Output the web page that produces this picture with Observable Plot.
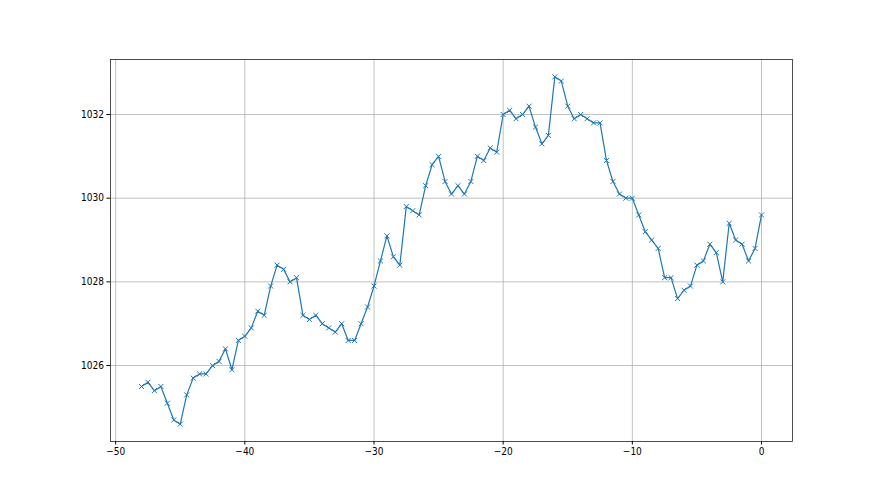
<!DOCTYPE html>
<html>
<head>
<meta charset="utf-8">
<script src="https://cdn.jsdelivr.net/npm/d3@7"></script>
<script src="https://cdn.jsdelivr.net/npm/@observablehq/plot@0.6"></script>
<style>
  html, body { margin: 0; padding: 0; background: #ffffff; }
  #chart svg { display: block; }
</style>
</head>
<body>
<div id="chart"></div>
<script>
const xStart = -48;
const xStep = 0.5;
const pressure = [
  1025.5, 1025.6, 1025.4, 1025.5, 1025.1, 1024.7, 1024.6, 1025.3, 1025.7, 1025.8,
  1025.8, 1026.0, 1026.1, 1026.4, 1025.9, 1026.6, 1026.7, 1026.9, 1027.3, 1027.2,
  1027.9, 1028.4, 1028.3, 1028.0, 1028.1, 1027.2, 1027.1, 1027.2, 1027.0, 1026.9,
  1026.8, 1027.0, 1026.6, 1026.6, 1027.0, 1027.4, 1027.9, 1028.5, 1029.1, 1028.6,
  1028.4, 1029.8, 1029.7, 1029.6, 1030.3, 1030.8, 1031.0, 1030.4, 1030.1, 1030.3,
  1030.1, 1030.4, 1031.0, 1030.9, 1031.2, 1031.1, 1032.0, 1032.1, 1031.9, 1032.0,
  1032.2, 1031.7, 1031.3, 1031.5, 1032.9, 1032.8, 1032.2, 1031.9, 1032.0, 1031.9,
  1031.8, 1031.8, 1030.9, 1030.4, 1030.1, 1030.0, 1030.0, 1029.6, 1029.2, 1029.0,
  1028.8, 1028.1, 1028.1, 1027.6, 1027.8, 1027.9, 1028.4, 1028.5, 1028.9, 1028.7,
  1028.0, 1029.4, 1029.0, 1028.9, 1028.5, 1028.8, 1029.6
];
const xTicks = [-50, -40, -30, -20, -10, 0];
const yTicks = [1026, 1028, 1030, 1032];

const data = pressure.map((p, i) => ({x: xStart + i * xStep, y: p}));

const xMin = d3.min(data, d => d.x), xMax = d3.max(data, d => d.x);
const yMin = d3.min(data, d => d.y), yMax = d3.max(data, d => d.y);
const xPad = (xMax - xMin) * 0.05, yPad = (yMax - yMin) * 0.05;

const chart = Plot.plot({
  width: 880,
  height: 495,
  marginLeft: 110,
  marginRight: 88,
  marginTop: 59,
  marginBottom: 54,
  style: {background: "#ffffff", fontFamily: "'Liberation Sans Narrow', 'DejaVu Sans Condensed', 'DejaVu Sans', sans-serif", fontSize: "10px", color: "#000"},
  x: {domain: [xMin - xPad, xMax + xPad]},
  y: {domain: [yMin - yPad, yMax + yPad]},
  marks: [
    Plot.gridX(xTicks, {stroke: "#b0b0b0", strokeOpacity: 1, strokeWidth: 0.8}),
    Plot.gridY(yTicks, {stroke: "#b0b0b0", strokeOpacity: 1, strokeWidth: 0.8}),
    Plot.line(data, {x: "x", y: "y", stroke: "#1f77b4", strokeWidth: 1.2}),
    Plot.dot(data, {x: "x", y: "y", symbol: "times", r: 2.4, stroke: "#1f77b4", strokeWidth: 1}),
    Plot.frame({stroke: "#222", strokeWidth: 0.8}),
    Plot.axisX(xTicks, {tickSize: 3.5, tickPadding: 3, label: null, fill: "#000", stroke: "#000", tickFormat: d3.format("d")}),
    Plot.axisY(yTicks, {tickSize: 3.5, tickPadding: 3, label: null, fill: "#000", stroke: "#000", tickFormat: d => String(d)})
  ]
});
document.getElementById("chart").appendChild(chart);
</script>
</body>
</html>
